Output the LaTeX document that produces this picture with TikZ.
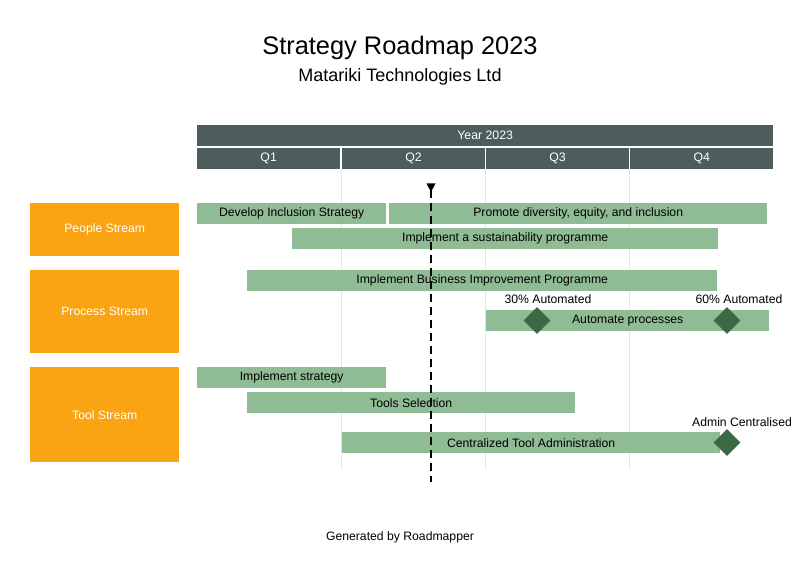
\documentclass[tikz,border=0pt]{standalone}
\usepackage{fontspec}
\setmainfont{Liberation Sans}
\usetikzlibrary{shapes.geometric}
\definecolor{hdr}{RGB}{77,92,92}
\definecolor{strm}{RGB}{250,163,19}
\definecolor{barg}{RGB}{143,188,148}
\definecolor{msg}{RGB}{60,104,68}
\definecolor{gridc}{RGB}{228,228,228}
\newcommand{\dn}[1]{\raisebox{-1pt}{#1}}
\begin{document}
\begin{tikzpicture}[x=1pt,y=-1pt,
  fnt/.style={font=\fontsize{12.2}{14}\selectfont},
  hbar/.style={fill=hdr,text=white,inner sep=0,anchor=north west,minimum height=21pt,font=\fontsize{12.3}{14}\selectfont},
  stream/.style={fill=strm,text=white,inner sep=0,anchor=north west,minimum width=149pt,fnt},
  task/.style={fill=barg,inner sep=0,anchor=north west,minimum height=21pt,fnt},
  mstone/.style={diamond,fill=msg,inner sep=0,minimum width=27pt,minimum height=27pt},
  mlabel/.style={fnt,inner sep=0},
  gridl/.style={draw=gridc,line width=0.8pt},
  today/.style={draw=black,line width=1.6pt,dash pattern=on 8pt off 5pt}]
\useasboundingbox (0,0) rectangle (800,572);
% titles
\node[font=\fontsize{25.4}{30}\selectfont] (title) at (400,47.5) {Strategy Roadmap 2023};
\node[font=\fontsize{18}{21}\selectfont] (sub) at (400,77) {Matariki Technologies Ltd};
% grid lines
\coordinate (g1t) at (341,169); \coordinate (g1b) at (341,470);
\coordinate (g2t) at (485,169); \coordinate (g2b) at (485,470);
\coordinate (g3t) at (629,169); \coordinate (g3b) at (629,470);
\draw[gridl] (g1t) -- (g1b);
\draw[gridl] (g2t) -- (g2b);
\draw[gridl] (g3t) -- (g3b);
% header
\node[hbar,minimum width=576pt] (year) at (197,125) {\dn{Year 2023}};
\node[hbar,minimum width=143pt] (q1) at (197,148) {\dn{Q1}};
\node[hbar,minimum width=142.5pt] (q2) at (342,148) {\dn{Q2}};
\node[hbar,minimum width=142.5pt] (q3) at (486,148) {\dn{Q3}};
\node[hbar,minimum width=143pt] (q4) at (630,148) {\dn{Q4}};
% streams
\node[stream,minimum height=53pt] (people) at (30,203) {\dn{People Stream}};
\node[stream,minimum height=83pt] (process) at (30,270) {\dn{Process Stream}};
\node[stream,minimum height=95pt] (tool) at (30,367) {\dn{Tool Stream}};
% tasks
\node[task,minimum width=189pt] (t1) at (197,203) {\dn{Develop Inclusion Strategy}};
\node[task,minimum width=378pt] (t2) at (389,203) {\dn{Promote diversity, equity, and inclusion}};
\node[task,minimum width=426pt] (t3) at (292,228) {\dn{Implement a sustainability programme}};
\node[task,minimum width=470pt] (t4) at (247,270) {\dn{Implement Business Improvement Programme}};
\node[task,minimum width=283pt] (t5) at (486,310) {\dn{Automate processes}};
\node[task,minimum width=189pt] (t6) at (197,367) {\dn{Implement strategy}};
\node[task,minimum width=328pt] (t7) at (247,392) {\dn{Tools Selection}};
\node[task,minimum width=378pt] (t8) at (342,432) {\dn{Centralized Tool Administration}};
% milestones
\node[mstone] (m1) at (537,320.5) {};
\node[mstone] (m2) at (727,320.5) {};
\node[mstone] (m3) at (727,442.5) {};
\node[mlabel] (l1) at (548,299.5) {30\% Automated};
\node[mlabel] (l2) at (739,299.5) {60\% Automated};
\node[mlabel] (l3) at (742,422) {Admin Centralised};
% today line
\coordinate (ttop) at (431,190);
\coordinate (tbot) at (431,482);
\draw[today] (ttop) -- (tbot);
\fill[black] (426.5,183.5) -- (435.5,183.5) -- (431,192) -- cycle;
% footer
\node[fnt] (foot) at (400,537.5) {Generated by Roadmapper};
\end{tikzpicture}
\end{document}
